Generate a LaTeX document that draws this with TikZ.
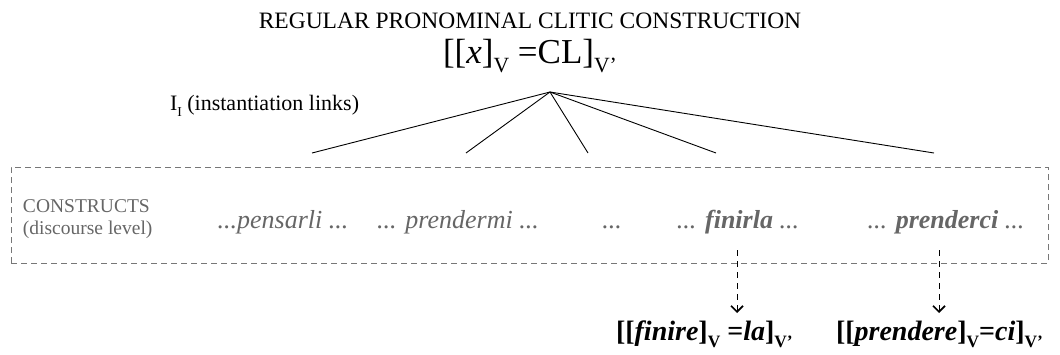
\documentclass[tikz,border=0pt]{standalone}
\usepackage{fontspec}
\setmainfont{Liberation Serif}
\usetikzlibrary{arrows.meta}
\definecolor{txtgray}{HTML}{666666}
\definecolor{boxgray}{HTML}{777777}
\newcommand{\fs}[1]{\fontsize{#1}{#1}\selectfont}
\newcommand{\sbx}[1]{\raisebox{-0.28em}{\fontsize{0.62em}{0.62em}\selectfont #1}}
\begin{document}
\begin{tikzpicture}[x=1pt,y=-1pt,
  every node/.style={inner sep=0pt,outer sep=0pt},
  link/.style={black,line width=0.9pt},
  conbox/.style={draw=boxgray,line width=0.9pt,dash pattern=on 6pt off 4pt},
  item/.style={anchor=base,text=txtgray,font=\fs{26}\itshape},
  derive/.style={black,line width=1pt,dash pattern=on 6pt off 5pt,-{Straight Barb[length=6pt,width=12pt,line width=1.7pt]}},
  result/.style={anchor=base west,font=\fs{28}\bfseries}]
\useasboundingbox (0,0) rectangle (1060,354);
% title
\node[anchor=base,font=\fs{23.5}] (title) at (530,28) {REGULAR PRONOMINAL CLITIC CONSTRUCTION};
\node[anchor=base,font=\fs{35}] (schema) at (530,63) {[[\textit{x}]\sbx{V} =CL]\sbx{V’}};
\coordinate (apex) at (550,92);
% instantiation label
\node[anchor=base west,font=\fs{22}] (ilabel) at (170,110) {I\sbx{I} (instantiation links)};
% link ends
\coordinate (e1) at (312,153);
\coordinate (e2) at (466,153);
\coordinate (e3) at (588,153);
\coordinate (e4) at (716,153);
\coordinate (e5) at (934,153);
\foreach \e in {e1,e2,e3,e4,e5} \draw[link] (apex) -- (\e);
% constructs box
\node[conbox,minimum width=1037pt,minimum height=96pt,anchor=north west] (box) at (11,167) {};
\node[anchor=base west,text=txtgray,font=\fs{19.5}] (cons) at (23,212) {CONSTRUCTS};
\node[anchor=base west,text=txtgray,font=\fs{19.5}] (disc) at (23,234) {(discourse level)};
\node[item] (i1) at (283,228) {...pensarli ...};
\node[item] (i2) at (458,228) {... prendermi ...};
\node[item] (i3) at (612,228) {...};
\node[item] (i4) at (738,228) {... \textbf{finirla} ...};
\node[item] (i5) at (946,228) {... \textbf{prenderci} ...};
% derivation arrows
\coordinate (a1s) at (737,250);
\coordinate (a1e) at (737,313);
\coordinate (a2s) at (939,250);
\coordinate (a2e) at (939,313);
\draw[derive] (a1s) -- (a1e);
\draw[derive] (a2s) -- (a2e);
% results
\node[result] (r1) at (616,340) {[[\textit{finire}]\sbx{V} =\textit{la}]\sbx{V’}};
\node[result] (r2) at (836,340) {[[\textit{prendere}]\sbx{V}=\textit{ci}]\sbx{V’}};
\end{tikzpicture}
\end{document}
